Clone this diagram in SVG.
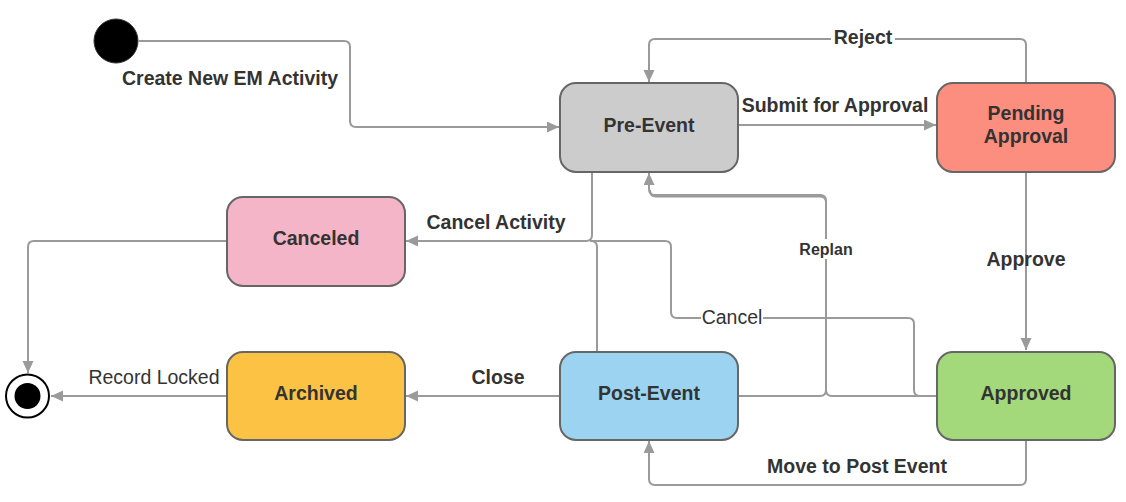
<svg xmlns="http://www.w3.org/2000/svg" width="1126" height="502" viewBox="0 0 1126 502">
  <style>
    .node rect { stroke: #666666; stroke-width: 2; }
    .lbl { font-family: "Liberation Sans", Arial, sans-serif; font-weight: bold; font-size: 19.5px; fill: #333333; text-anchor: middle; }
    .elbl { font-family: "Liberation Sans", Arial, sans-serif; font-weight: bold; font-size: 19.5px; fill: #333333; text-anchor: middle; }
    .nlbl { font-family: "Liberation Sans", Arial, sans-serif; font-weight: normal; font-size: 19.5px; fill: #333333; text-anchor: middle; }
    .conn path { fill: none; stroke: #9a9a9a; stroke-width: 2; }
    .arr { marker-end: url(#ah); }
    .bg { fill: #ffffff; }
  </style>
  <defs>
    <marker id="ah" markerWidth="14" markerHeight="12" refX="12" refY="5.5" orient="auto" markerUnits="userSpaceOnUse">
      <path d="M0,0 L12,5.5 L0,11 z" fill="#9a9a9a"/>
    </marker>
  </defs>
  <rect width="1126" height="502" fill="#ffffff"/>

  <g id="connectors" class="conn">
    <path class="arr" d="M139,41 H344 Q350,41 350,47 V121 Q350,127 356,127 H559"/>
    <path class="arr" d="M738,125 H936"/>
    <path class="arr" d="M1026,83 V45 Q1026,39 1020,39 H655 Q649,39 649,45 V82"/>
    <path class="arr" d="M1026,172 V350"/>
    <path class="arr" d="M1026,440 V479 Q1026,485 1020,485 H655 Q649,485 649,479 V441"/>
    <path class="arr" d="M560,396 H406"/>
    <path class="arr" d="M227,396 H51"/>
    <path class="arr" d="M227,241 H34 Q28,241 28,247 V373"/>
    <path class="arr" d="M592,172 V235 Q592,241 586,241 H406"/>
    <path d="M597,351 V247 Q597,241 591,241"/>
    <path d="M937,396 H920 Q914,396 914,390 V324 Q914,318 908,318 H677 Q671,318 671,312 V247 Q671,241 665,241 H590"/>
    <path class="arr" d="M738,396 H820 Q826,396 826,390 V201 Q826,195 820,195 H655 Q649,195 649,189 V173"/>
    <path d="M937,396 H832 Q826,396 826,390 V202 Q826,196.5 820,196.5 H656 Q650,196.5 650,190"/>
    <rect class="bg" x="831" y="28" width="64" height="20"/>
    <text class="elbl" x="863" y="44">Reject</text>
    <rect class="bg" x="796" y="239" width="60" height="20"/>
    <text class="elbl" x="826" y="255" style="font-size:16px">Replan</text>
    <rect class="bg" x="701" y="307" width="62" height="20"/>
    <text class="nlbl" x="732" y="324">Cancel</text>
    <text class="elbl" x="230" y="85">Create New EM Activity</text>
    <text class="elbl" x="835" y="112">Submit for Approval</text>
    <text class="elbl" x="1026" y="266">Approve</text>
    <text class="elbl" x="496" y="229">Cancel Activity</text>
    <text class="elbl" x="498" y="384">Close</text>
    <text class="nlbl" x="154" y="384">Record Locked</text>
    <text class="elbl" x="857" y="473">Move to Post Event</text>
  </g>

  <g id="start">
    <circle cx="116" cy="41" r="22" fill="#000000" stroke="#333333" stroke-width="1"/>
  </g>
  <g id="end">
    <circle cx="27.5" cy="396" r="21.5" fill="#ffffff" stroke="#000000" stroke-width="2"/>
    <circle cx="27.5" cy="396" r="13" fill="#000000"/>
  </g>

  <g id="pre-event" class="node">
    <rect x="560" y="83" width="178" height="89" rx="16" fill="#cccccc"/>
    <text class="lbl" x="649" y="132">Pre-Event</text>
  </g>
  <g id="pending-approval" class="node">
    <rect x="937" y="83" width="178" height="89" rx="16" fill="#fc8e80"/>
    <text class="lbl" x="1026" y="120">Pending</text>
    <text class="lbl" x="1026" y="143">Approval</text>
  </g>
  <g id="canceled" class="node">
    <rect x="227" y="197" width="178" height="89" rx="16" fill="#f5b5c9"/>
    <text class="lbl" x="316" y="245">Canceled</text>
  </g>
  <g id="archived" class="node">
    <rect x="227" y="352" width="178" height="88" rx="16" fill="#fcc244"/>
    <text class="lbl" x="316" y="400">Archived</text>
  </g>
  <g id="post-event" class="node">
    <rect x="560" y="352" width="178" height="88" rx="16" fill="#9cd3f0"/>
    <text class="lbl" x="649" y="400">Post-Event</text>
  </g>
  <g id="approved" class="node">
    <rect x="937" y="352" width="178" height="88" rx="16" fill="#a3d87b"/>
    <text class="lbl" x="1026" y="400">Approved</text>
  </g>
</svg>
